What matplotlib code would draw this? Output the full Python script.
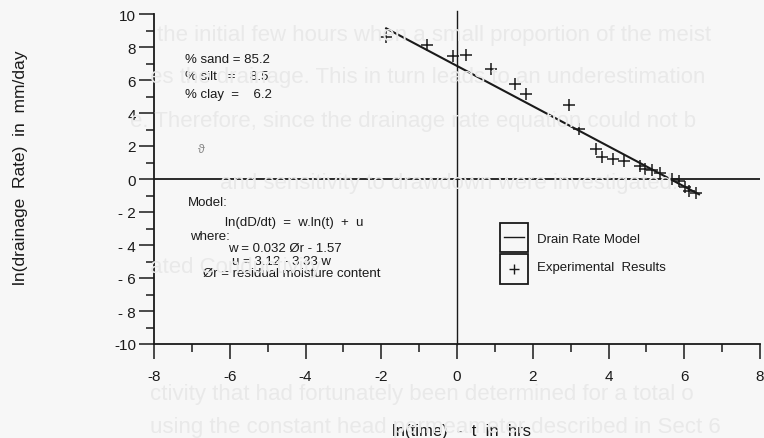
import numpy as np
import matplotlib
matplotlib.use("Agg")
import matplotlib.pyplot as plt
from matplotlib.patches import Rectangle
from matplotlib.lines import Line2D

# Dados
ln_t = [-1.87, -0.79, -0.11, 0.25, 0.89, 1.53, 1.81, 2.97, 3.22, 3.66,
        3.83, 4.12, 4.40, 4.82, 4.97, 5.15, 5.35, 5.68, 5.85, 6.03, 6.12, 6.32]
ln_rate = [8.61, 8.10, 7.45, 7.49, 6.65, 5.78, 5.13, 4.47, 3.01, 1.80,
           1.33, 1.23, 1.09, 0.79, 0.59, 0.53, 0.38, -0.02, -0.12, -0.49, -0.73, -0.83]

# Modelo (reta)
model_x = [-1.87, 6.39]
model_y = [9.13, -0.93]

x_ticks = [-8, -6, -4, -2, 0, 2, 4, 6, 8]
x_labels = ['-8', '-6', '-4', '-2', '0', '2', '4', '6', '8']
y_ticks = [-10, -8, -6, -4, -2, 0, 2, 4, 6, 8, 10]
y_labels = ['-10', '- 8', '- 6', '- 4', '- 2', '0', '2', '4', '6', '8', '10']

soil_text = ['% sand = 85.2', '% silt   =    8.5', '% clay  =    6.2']
model_text = ['Model:', 'ln(dD/dt)  =  w.ln(t)  +  u', 'where:',
              'w = 0.032 Ør - 1.57', 'u = 3.12 - 3.33 w', 'Ør = residual moisture content']

# Texto do verso da pagina (aparece por transparencia)
verso = [(157, 35, 'the initial few hours when a small proportion of the meist'),
         (150, 78, 'es the drainage. This in turn leads to an underestimation'),
         (130, 122, 'e. Therefore, since the drainage rate equation could not b'),
         (220, 183, 'and sensitivity to drawdown were investigated.'),
         (150, 268, 'ated Conductivity'),
         (150, 395, 'ctivity that had fortunately been determined for a total o'),
         (150, 428, 'using the constant head permeameter described in Sect 6')]

plt.rcParams['font.family'] = ['Liberation Sans', 'DejaVu Sans']

fig = plt.figure(figsize=(7.64, 4.39), dpi=100, facecolor='#f7f7f7')
for px, py, s in verso:
    fig.text(px / 764, 1 - py / 439, s, fontsize=16, color='#e9e9e9', va='center', ha='left', zorder=0)

ax = fig.add_axes([154 / 764, 1 - 345 / 439, 606 / 764, 330 / 439])
ax.patch.set_alpha(0)

cor = '#1a1a1a'
ax.axhline(0, color=cor, lw=1.3, zorder=2)
ax.plot([0, 0], [-10, 10.2], color=cor, lw=1.0, clip_on=False, zorder=2)
ax.plot(model_x, model_y, color=cor, lw=1.5, zorder=3)
ax.plot(ln_t, ln_rate, '+', color=cor, ms=8, mew=1.1, zorder=4)

ax.set_xlim(-8, 8)
ax.set_ylim(-10, 10)
for s in ['top', 'right']:
    ax.spines[s].set_visible(False)
for s in ['left', 'bottom']:
    ax.spines[s].set_linewidth(1.3)
    ax.spines[s].set_color(cor)

ax.set_xticks(x_ticks)
ax.set_xticklabels(x_labels)
ax.set_yticks(y_ticks)
ax.set_yticklabels(y_labels)
ax.set_xticks(np.arange(-7, 8, 2), minor=True)
ax.set_yticks(np.arange(-9, 10, 2), minor=True)
ax.tick_params(which='major', length=11, width=1.1, color=cor, labelsize=11, labelcolor=cor)
ax.tick_params(which='minor', length=5.5, width=1.1, color=cor)
ax.tick_params(axis='y', pad=2)
ax.tick_params(axis='x', pad=7)

ax.set_xlabel('ln(time)  -  t  in  hrs', fontsize=12, color=cor)
ax.xaxis.set_label_coords(0.507, -0.239)
ax.set_ylabel('ln(drainage  Rate)  in  mm/day', fontsize=12.5, color=cor)
ax.yaxis.set_label_coords(-0.208, 0.536)

for i, s in enumerate(soil_text):
    ax.text(0.051, 0.864 - i * 0.053, s, transform=ax.transAxes, fontsize=9.5,
            va='center', color=cor)

pos = [(0.056, 0.430), (0.117, 0.370), (0.059, 0.327), (0.122, 0.291), (0.129, 0.252), (0.081, 0.215)]
for (fx, fy), s in zip(pos, model_text):
    ax.text(fx, fy, s, transform=ax.transAxes, fontsize=9.5, va='center', color=cor)

# simbolo solto
ax.text(-6.75, 1.8, 'ϑ', fontsize=9, color='#8a8a8a', ha='center', va='center')

# Legenda desenhada a mao
ax.add_patch(Rectangle((0.571, 0.279), 0.046, 0.088, transform=ax.transAxes,
                       fill=False, lw=1.3, ec=cor, clip_on=False))
ax.add_patch(Rectangle((0.571, 0.182), 0.046, 0.091, transform=ax.transAxes,
                       fill=False, lw=1.3, ec=cor, clip_on=False))
ax.add_line(Line2D([0.578, 0.610], [0.324, 0.324], transform=ax.transAxes, color=cor, lw=1.0))
ax.plot([0.594], [0.228], '+', transform=ax.transAxes, color=cor, ms=7, mew=1.0)
ax.text(0.632, 0.318, 'Drain Rate Model', transform=ax.transAxes, fontsize=9.5, va='center', color=cor)
ax.text(0.632, 0.233, 'Experimental  Results', transform=ax.transAxes, fontsize=9.5, va='center', color=cor)

plt.savefig('out.png', dpi=100, facecolor=fig.get_facecolor())
